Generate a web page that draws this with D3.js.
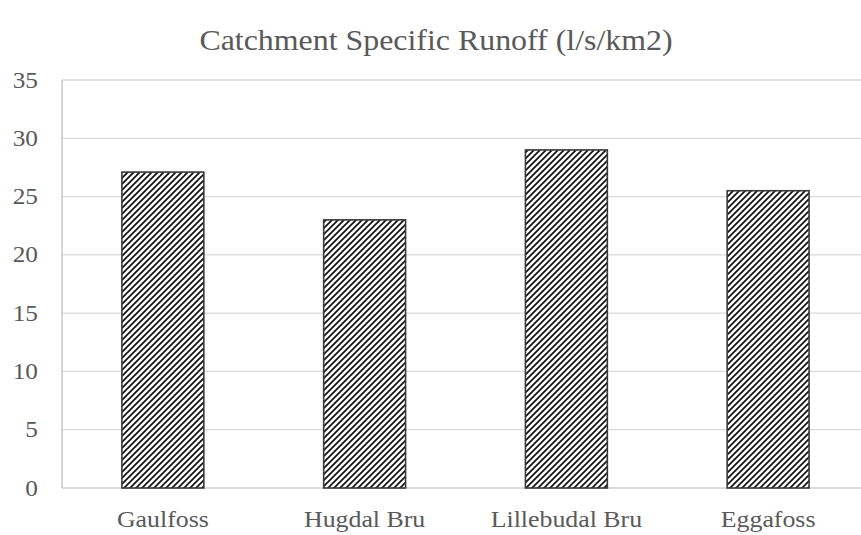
<!DOCTYPE html>
<html>
<head>
<meta charset="utf-8">
<script src="https://d3js.org/d3.v7.min.js"></script>
<style>
    body { margin: 0; background: #ffffff; overflow: hidden; }
    svg { display: block; }
    text { font-family: "Liberation Serif", "Times New Roman", serif; fill: #595959; }
</style>
</head>
<body>
<svg></svg>
<script>
//DATA
var stations = ['Gaulfoss', 'Hugdal Bru', 'Lillebudal Bru', 'Eggafoss'];
var runoff = [27.1, 23.0, 29.0, 25.5];
var yTicks = [0, 5, 10, 15, 20, 25, 30, 35];
var title = 'Catchment Specific Runoff (l/s/km2)';

//SVG SETUP
var w = 861,
    h = 535,
    plotLeft = 62,
    plotTop = 80,
    plotBottom = 488;

var svg = d3.select('svg')
    .attr('width', w)
    .attr('height', h);

// hatch pattern (wide upward diagonal)
var defs = svg.append('defs');
var pattern = defs.append('pattern')
    .attr('id', 'hatch')
    .attr('patternUnits', 'userSpaceOnUse')
    .attr('width', 6)
    .attr('height', 6);
pattern.append('rect')
    .attr('width', 6)
    .attr('height', 6)
    .attr('fill', '#ffffff');
pattern.append('path')
    .attr('d', 'M-1,7 L7,-1 M-4,4 L4,-4 M2,10 L10,2')
    .attr('stroke', '#111111')
    .attr('stroke-width', 1.7);

//SCALES
var xScale = d3.scaleBand()
    .domain(stations)
    .range([plotLeft, 869])
    .paddingInner(0.594)
    .paddingOuter(0.297);

var yScale = d3.scaleLinear()
    .domain([0, 35])
    .range([plotBottom, plotTop]);

//GRIDLINES
svg.append('g')
    .selectAll('line')
    .data(yTicks.filter(function(d) { return d > 0; }))
    .enter()
    .append('line')
    .attr('x1', plotLeft)
    .attr('x2', w)
    .attr('y1', function(d) { return yScale(d); })
    .attr('y2', function(d) { return yScale(d); })
    .attr('stroke', '#d9d9d9')
    .attr('stroke-width', 1.3);

// baseline + left axis line
svg.append('line')
    .attr('x1', plotLeft)
    .attr('x2', w)
    .attr('y1', yScale(0))
    .attr('y2', yScale(0))
    .attr('stroke', '#d0d0d0')
    .attr('stroke-width', 1.6);

svg.append('line')
    .attr('x1', plotLeft)
    .attr('x2', plotLeft)
    .attr('y1', yScale(35))
    .attr('y2', yScale(0))
    .attr('stroke', '#bfbfbf')
    .attr('stroke-width', 1.3);

//Y LABELS
svg.append('g')
    .selectAll('text')
    .data(yTicks)
    .enter()
    .append('text')
    .attr('text-anchor', 'end')
    .attr('font-size', 23)
    .attr('transform', function(d) {
        return 'translate(38,' + (yScale(d) + 7.5) + ') scale(1.1,1)';
    })
    .text(function(d) { return d; });

//BARS
svg.append('g')
    .selectAll('rect')
    .data(runoff)
    .enter()
    .append('rect')
    .attr('x', function(d, i) { return xScale(stations[i]); })
    .attr('y', function(d) { return yScale(d); })
    .attr('width', xScale.bandwidth())
    .attr('height', function(d) { return yScale(0) - yScale(d); })
    .attr('fill', 'url(#hatch)')
    .attr('stroke', '#3a3a3a')
    .attr('stroke-width', 1.6);

//X LABELS
svg.append('g')
    .selectAll('text')
    .data(stations)
    .enter()
    .append('text')
    .attr('text-anchor', 'middle')
    .attr('font-size', 23.5)
    .attr('transform', function(d) {
        return 'translate(' + (xScale(d) + xScale.bandwidth() / 2) + ',527) scale(1.1,1)';
    })
    .text(function(d) { return d; });

//TITLE
svg.append('text')
    .attr('text-anchor', 'middle')
    .attr('font-size', 29)
    .attr('transform', 'translate(436,50) scale(1.1,1)')
    .text(title);
</script>
</body>
</html>
